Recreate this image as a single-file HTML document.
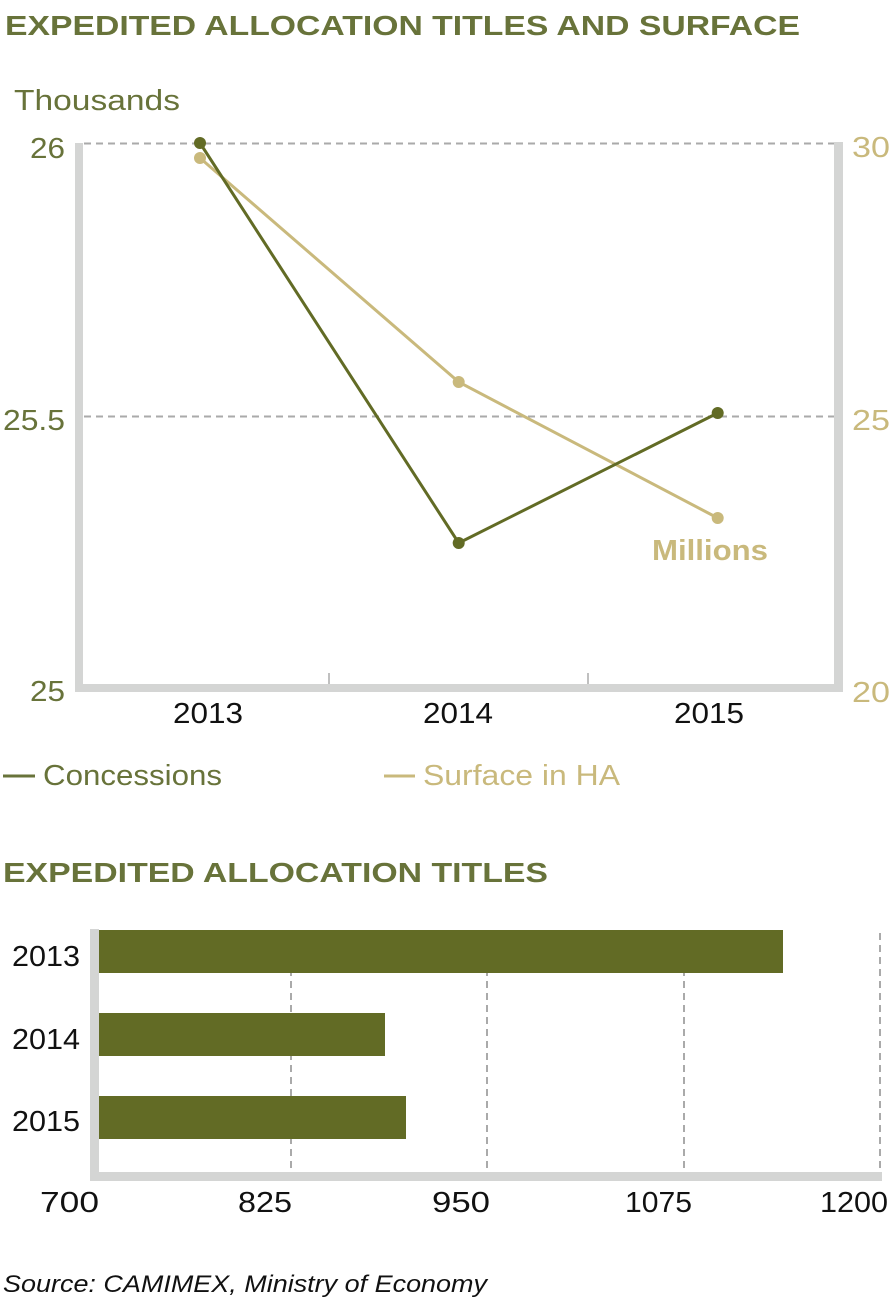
<!DOCTYPE html>
<html><head><meta charset="utf-8"><style>
html,body{margin:0;padding:0;background:#fff;}
svg{display:block;}
text{font-family:"Liberation Sans",sans-serif;}
</style></head><body>
<svg width="896" height="1315" viewBox="0 0 896 1315" xmlns="http://www.w3.org/2000/svg">
<!-- Title 1 -->
<text x="5" y="35" font-size="28" font-weight="bold" fill="#68733a" textLength="795" lengthAdjust="spacingAndGlyphs">EXPEDITED ALLOCATION TITLES AND SURFACE</text>
<text x="14" y="110" font-size="29" fill="#68733a" textLength="166" lengthAdjust="spacingAndGlyphs">Thousands</text>

<!-- gridlines -->
<line x1="84" y1="143.5" x2="834" y2="143.5" stroke="#aaa" stroke-width="2" stroke-dasharray="7,5"/>
<line x1="84" y1="416.5" x2="834" y2="416.5" stroke="#aaa" stroke-width="2" stroke-dasharray="7,5"/>

<!-- axes -->
<rect x="75" y="143" width="8" height="549" fill="#d4d5d4"/>
<rect x="834" y="142" width="9" height="550" fill="#d4d5d4"/>
<rect x="75" y="684" width="768" height="8" fill="#d4d5d4"/>
<line x1="329" y1="673" x2="329" y2="684" stroke="#aaa" stroke-width="1.5"/>
<line x1="588" y1="673" x2="588" y2="684" stroke="#aaa" stroke-width="1.5"/>

<!-- left labels -->
<g font-size="29" fill="#68733a" lengthAdjust="spacingAndGlyphs">
<text x="30" y="158" textLength="35" lengthAdjust="spacingAndGlyphs">26</text>
<text x="3" y="430" textLength="62" lengthAdjust="spacingAndGlyphs">25.5</text>
<text x="30" y="701" textLength="35" lengthAdjust="spacingAndGlyphs">25</text>
</g>
<g font-size="29" fill="#c9b97c">
<text x="852" y="157" textLength="38" lengthAdjust="spacingAndGlyphs">30</text>
<text x="852" y="430" textLength="38" lengthAdjust="spacingAndGlyphs">25</text>
<text x="852" y="702" textLength="38" lengthAdjust="spacingAndGlyphs">20</text>
</g>
<g font-size="29" fill="#111">
<text x="173" y="723" textLength="70" lengthAdjust="spacingAndGlyphs">2013</text>
<text x="423" y="723" textLength="70" lengthAdjust="spacingAndGlyphs">2014</text>
<text x="674" y="723" textLength="70" lengthAdjust="spacingAndGlyphs">2015</text>
</g>

<!-- series -->
<polyline points="200,158 458.7,382 717.7,518" fill="none" stroke="#c9b97c" stroke-width="3"/>
<polyline points="200,143 458.7,543 717.7,413" fill="none" stroke="#626b25" stroke-width="3"/>
<g fill="#c9b97c"><circle cx="200" cy="158" r="6"/><circle cx="458.7" cy="382" r="6"/><circle cx="717.7" cy="518" r="6"/></g>
<g fill="#626b25"><circle cx="200" cy="143" r="6"/><circle cx="458.7" cy="543" r="6"/><circle cx="717.7" cy="413" r="6"/></g>
<text x="652" y="560" font-size="29" font-weight="bold" fill="#c9b97c" textLength="116" lengthAdjust="spacingAndGlyphs">Millions</text>

<!-- legend -->
<line x1="3" y1="776" x2="35" y2="776" stroke="#68733a" stroke-width="3"/>
<text x="43" y="785" font-size="29" fill="#68733a" textLength="179" lengthAdjust="spacingAndGlyphs">Concessions</text>
<line x1="384" y1="776" x2="415" y2="776" stroke="#c9b97c" stroke-width="3"/>
<text x="423" y="785" font-size="29" fill="#c9b97c" textLength="197" lengthAdjust="spacingAndGlyphs">Surface in HA</text>

<!-- Title 2 -->
<text x="3" y="882" font-size="28" font-weight="bold" fill="#68733a" textLength="545" lengthAdjust="spacingAndGlyphs">EXPEDITED ALLOCATION TITLES</text>

<!-- bar chart gridlines -->
<g stroke="#aaa" stroke-width="2" stroke-dasharray="7,5">
<line x1="291" y1="933" x2="291" y2="1172"/>
<line x1="487" y1="933" x2="487" y2="1172"/>
<line x1="684" y1="933" x2="684" y2="1172"/>
<line x1="880" y1="933" x2="880" y2="1172"/>
</g>
<rect x="90" y="929" width="9" height="252" fill="#d4d5d4"/>
<rect x="90" y="1172" width="792" height="9" fill="#d4d5d4"/>
<g fill="#626b25">
<rect x="99" y="930" width="684" height="43"/>
<rect x="99" y="1013" width="286" height="43"/>
<rect x="99" y="1096" width="307" height="43"/>
</g>
<g font-size="29" fill="#111">
<text x="12" y="966" textLength="68" lengthAdjust="spacingAndGlyphs">2013</text>
<text x="12" y="1049" textLength="68" lengthAdjust="spacingAndGlyphs">2014</text>
<text x="12" y="1131" textLength="68" lengthAdjust="spacingAndGlyphs">2015</text>
</g>
<g font-size="29" fill="#111">
<text x="40" y="1212" textLength="59" lengthAdjust="spacingAndGlyphs">700</text>
<text x="238" y="1212" textLength="54" lengthAdjust="spacingAndGlyphs">825</text>
<text x="432" y="1212" textLength="58" lengthAdjust="spacingAndGlyphs">950</text>
<text x="625" y="1212" textLength="67" lengthAdjust="spacingAndGlyphs">1075</text>
<text x="820" y="1212" textLength="68" lengthAdjust="spacingAndGlyphs">1200</text>
</g>

<text x="3" y="1292" font-size="24" font-style="italic" fill="#111" textLength="484" lengthAdjust="spacingAndGlyphs">Source: CAMIMEX, Ministry of Economy</text>
</svg>
</body></html>
